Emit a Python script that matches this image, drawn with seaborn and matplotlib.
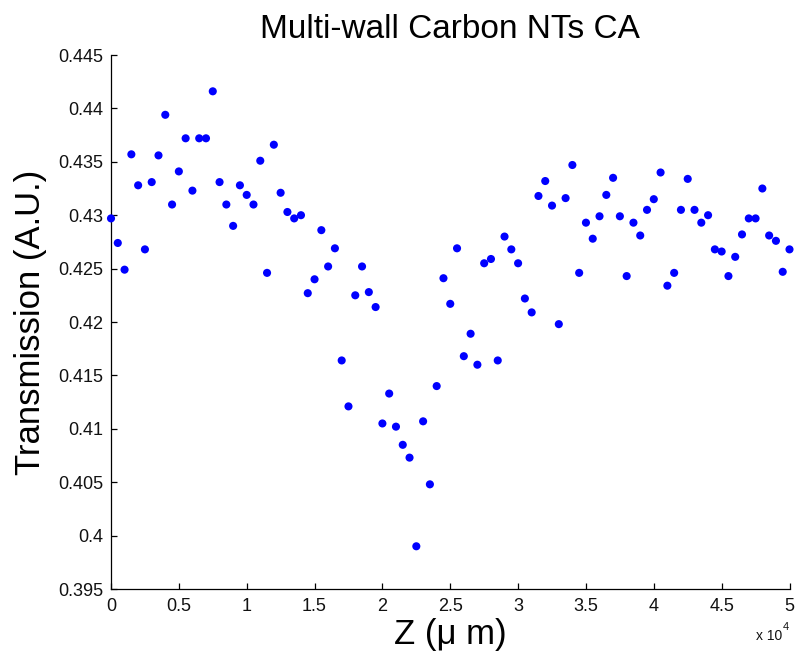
import matplotlib
matplotlib.use("Agg")
import matplotlib.pyplot as plt
import seaborn as sns
import numpy as np
import pandas as pd
from matplotlib.ticker import FuncFormatter

# ---- data ----
z_step_um = 500
z_um = [i * z_step_um for i in range(101)]
transmission = [
    0.4297, 0.4274, 0.4249, 0.4357, 0.4328, 0.4268, 0.4331, 0.4356, 0.4394, 0.4310,
    0.4341, 0.4372, 0.4323, 0.4372, 0.4372, 0.4416, 0.4331, 0.4310, 0.4290, 0.4328,
    0.4319, 0.4310, 0.4351, 0.4246, 0.4366, 0.4321, 0.4303, 0.4297, 0.4300, 0.4227,
    0.4240, 0.4286, 0.4252, 0.4269, 0.4164, 0.4121, 0.4225, 0.4252, 0.4228, 0.4214,
    0.4105, 0.4133, 0.4102, 0.4085, 0.4073, 0.3990, 0.4107, 0.4048, 0.4140, 0.4241,
    0.4217, 0.4269, 0.4168, 0.4189, 0.4160, 0.4255, 0.4259, 0.4164, 0.4280, 0.4268,
    0.4255, 0.4222, 0.4209, 0.4318, 0.4332, 0.4309, 0.4198, 0.4316, 0.4347, 0.4246,
    0.4293, 0.4278, 0.4299, 0.4319, 0.4335, 0.4299, 0.4243, 0.4293, 0.4281, 0.4305,
    0.4315, 0.4340, 0.4234, 0.4246, 0.4305, 0.4334, 0.4305, 0.4293, 0.4300, 0.4268,
    0.4266, 0.4243, 0.4261, 0.4282, 0.4297, 0.4297, 0.4325, 0.4281, 0.4276, 0.4247,
    0.4268,
]
x_ticks = [0, 5000, 10000, 15000, 20000, 25000, 30000, 35000, 40000, 45000, 50000]
y_ticks = [0.395, 0.40, 0.405, 0.41, 0.415, 0.42, 0.425, 0.43, 0.435, 0.44, 0.445]
title = "Multi-wall Carbon NTs CA"
xlabel = "Z (\u03bc m)"
ylabel = "Transmission (A.U.)"

df = pd.DataFrame({"z": z_um, "T": transmission})

sns.set_style("ticks")
plt.rcParams["font.family"] = ["Liberation Sans", "DejaVu Sans"]
plt.rcParams["text.color"] = "black"

fig = plt.figure(figsize=(7.97, 6.6), dpi=100)
ax = fig.add_axes([111 / 797, 1 - 589 / 660, (789.5 - 111) / 797, (589 - 55) / 660])

sns.scatterplot(data=df, x="z", y="T", ax=ax, color="#0000FF", s=34,
                edgecolor="none", linewidth=0, legend=False, clip_on=False,
                zorder=3)

ax.set_xlim(0, 50000)
ax.set_ylim(0.395, 0.445)
ax.set_xticks(x_ticks)
ax.set_yticks(y_ticks)
ax.xaxis.set_major_formatter(FuncFormatter(lambda v, p: f"{v/1e4:g}"))
ax.yaxis.set_major_formatter(FuncFormatter(lambda v, p: f"{round(v, 3):g}"))

for s in ["top", "right"]:
    ax.spines[s].set_visible(False)
for s in ["left", "bottom"]:
    ax.spines[s].set_linewidth(0.9)
    ax.spines[s].set_color("black")

ax.tick_params(direction="in", length=4.3, width=0.9, colors="black",
               labelsize=13, labelcolor="#111111")
ax.tick_params(axis="y", pad=5.8)
ax.tick_params(axis="x", pad=6.5)

ax.set_title(title, fontsize=24, pad=12, color="black")
ax.set_xlabel(xlabel, fontsize=25, labelpad=2, color="black")
ax.set_ylabel(ylabel, fontsize=25, labelpad=8, color="black")

fig.text(782 / 797, 1 - 636 / 660, "x 10", fontsize=10, ha="right", va="center",
         color="#111111")
fig.text(783 / 797, 1 - 627 / 660, "4", fontsize=8, ha="left", va="center",
         color="#111111")

fig.savefig("out.png", dpi=100)
